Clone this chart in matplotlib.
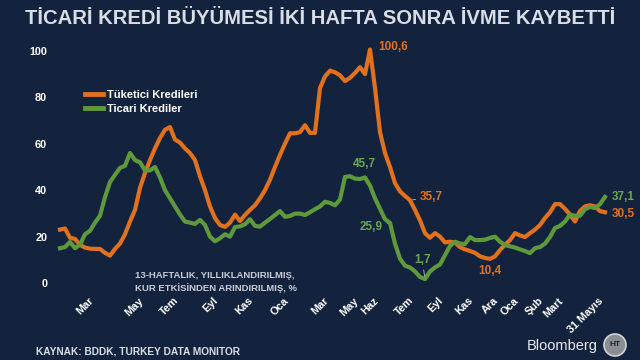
import matplotlib
matplotlib.use('Agg')
import matplotlib.pyplot as plt
from matplotlib.patches import Ellipse

# weekly 13-week annualised growth, %
tuketici = [23, 23.5, 19.5, 19, 16.4, 15.3, 14.8, 14.7, 14.7, 13,
            11.8, 14.7, 17, 21, 26.5, 31.5, 41, 47.4, 53, 58,
            62.5, 66, 67.2, 61.8, 60.5, 58, 56, 53, 46, 40,
            33, 28, 25, 24.2, 26, 29.5, 26.7, 29.3, 31.5, 33.5,
            36.5, 40, 44.5, 50, 55.2, 60, 64.5, 64.5, 65, 68,
            64.7, 64.7, 84, 89, 91.5, 90.8, 89.5, 87, 88.4, 90.5,
            93, 90, 100.6, 84, 65, 56, 50, 43, 39.5, 37.5,
            35.7, 31.5, 27, 21.5, 19.5, 21.5, 20, 17.5, 17.8, 17.5,
            15.5, 14.5, 13.8, 13, 11.5, 10.8, 10.4, 11.5, 14.2, 16.5,
            18.5, 21.5, 20.5, 19.8, 21.5, 23, 25, 28, 30.5, 34,
            34, 32, 29.5, 26.5, 31, 33, 33.5, 33, 31, 30.5]

ticari = [15, 15.5, 17.7, 15, 16.5, 21, 22.5, 26, 29, 37,
          43.5, 46.6, 49.6, 50.5, 56, 53, 52, 48.5, 48.5, 50,
          45.5, 40, 36.5, 33, 29.5, 26.5, 26, 25.5, 27.2, 25,
          20, 18, 19.3, 21, 20, 24.1, 24.4, 25.3, 27.5, 24.6,
          24.3, 26, 27.6, 29.3, 31, 28.5, 28.9, 29.9, 29.9, 29.3,
          30.5, 31.8, 33, 35, 34.5, 33.5, 36, 45.7, 46, 45,
          44.8, 45.5, 42, 36.5, 32, 27.5, 25.9, 17, 10.5, 7.5,
          6.7, 5, 2.6, 1.7, 5, 6.7, 8, 12, 16, 17.8,
          17, 16.8, 19.8, 18.5, 18.5, 18.7, 19.4, 20, 17.8, 16.4,
          15.8, 15.3, 14.5, 13.8, 12.9, 15, 15.5, 17, 19.8, 23.7,
          24.6, 26.5, 29.5, 29, 29, 31.8, 32.8, 32.3, 34, 37.1]

tick_pos = [7, 17, 24, 32, 39, 46, 54, 60, 64, 71, 77, 83, 88, 92, 97, 101, 109]
tick_lbl = ['Mar', 'May', 'Tem', 'Eyl', 'Kas', 'Oca', 'Mar', 'May', 'Haz',
            'Tem', 'Eyl', 'Kas', 'Ara', 'Oca', 'Şub', 'Mart', '31 Mayıs']

BG = '#13233e'
ORANGE = '#e2711d'
GREEN = '#5e9a3b'
GREEN_TXT = '#6aa84f'
LIGHT = '#d9dde5'

plt.rcParams['font.family'] = ['Liberation Sans', 'DejaVu Sans']

fig = plt.figure(figsize=(6.4, 3.6), dpi=100, facecolor=BG)
ax = fig.add_axes([50 / 640, 70 / 360, 565 / 640, 250 / 360], facecolor=BG)

x = list(range(len(tuketici)))
ax.plot(x, tuketici, color=ORANGE, lw=3, solid_joinstyle='round', label='Tüketici Kredileri')
ax.plot(x, ticari, color=GREEN, lw=3, solid_joinstyle='round', label='Ticari Krediler')

ax.set_xlim(-2, 111)
ax.set_ylim(-3, 104.7)
ax.set_yticks([0, 20, 40, 60, 80, 100])
ax.set_xticks(tick_pos)
ax.set_xticklabels(tick_lbl, rotation=45, ha='right', va='top')
ax.tick_params(length=0, colors='white', labelsize=7.8)
ax.tick_params(axis='y', pad=2)
ax.tick_params(axis='x', pad=4)
for lab in ax.get_xticklabels() + ax.get_yticklabels():
    lab.set_fontweight('bold')
for s in ax.spines.values():
    s.set_visible(False)

leg = ax.legend(loc='upper left', bbox_to_anchor=(0.062, 0.80), frameon=False,
                borderpad=0, borderaxespad=0, handlelength=1.6, handletextpad=0.4,
                labelspacing=0.35, prop={'weight': 'bold', 'size': 8})
for t in leg.get_texts():
    t.set_color('white')
for h in leg.get_lines():
    h.set_linewidth(3.5)

def note(i, series, text, color, dx, dy, ha='left', leader=False):
    kw = dict(textcoords='offset points', color=color, fontsize=8.5, fontweight='bold',
              ha=ha, va='center')
    if leader:
        kw['arrowprops'] = dict(arrowstyle='-', color='#b8bcc6', lw=0.6, shrinkA=1, shrinkB=2)
    ax.annotate(text, (i, series[i]), xytext=(dx, dy), **kw)

note(62, tuketici, '100,6', ORANGE, 6, 2)
note(57, ticari, '45,7', GREEN_TXT, 6, 9)
note(70, tuketici, '35,7', ORANGE, 7, 2, leader=True)
note(66, ticari, '25,9', GREEN_TXT, -5, -3, ha='right', leader=True)
note(73, ticari, '1,7', GREEN_TXT, -2, 14, ha='center', leader=True)
note(86, tuketici, '10,4', ORANGE, 0, -9, ha='center')
note(109, ticari, '37,1', GREEN_TXT, 5, 0)
note(109, tuketici, '30,5', ORANGE, 5, -1)

fig.text(135 / 640, 1 - 282 / 360, '13-HAFTALIK, YILLIKLANDIRILMIŞ,\nKUR ETKİSİNDEN ARINDIRILMIŞ, %',
         color='#c9cdd6', fontsize=6.8, fontweight='bold', ha='left', va='center', linespacing=1.4)

fig.text(0.5, 1 - 18 / 360, 'TİCARİ KREDİ BÜYÜMESİ İKİ HAFTA SONRA İVME KAYBETTİ',
         color=LIGHT, fontsize=14.6, fontweight='bold', ha='center', va='center')
fig.text(36 / 640, 1 - 351 / 360, 'KAYNAK: BDDK, TURKEY DATA MONITOR',
         color=LIGHT, fontsize=7.3, fontweight='bold', ha='left', va='center')
fig.text(598 / 640, 1 - 346 / 360, 'Bloomberg', color='#e8eaef', fontsize=10.5,
         ha='right', va='center')
fig.patches.append(Ellipse((615 / 640, 1 - 345 / 360), 22 / 640, 22 / 360, transform=fig.transFigure,
                           facecolor='#8a8d94', edgecolor='#d0d2d6', lw=1.2))
fig.text(615 / 640, 1 - 345 / 360, 'HT', color='#20242c', fontsize=6, fontweight='bold',
         ha='center', va='center')

fig.savefig('out.png', dpi=100, facecolor=BG)
